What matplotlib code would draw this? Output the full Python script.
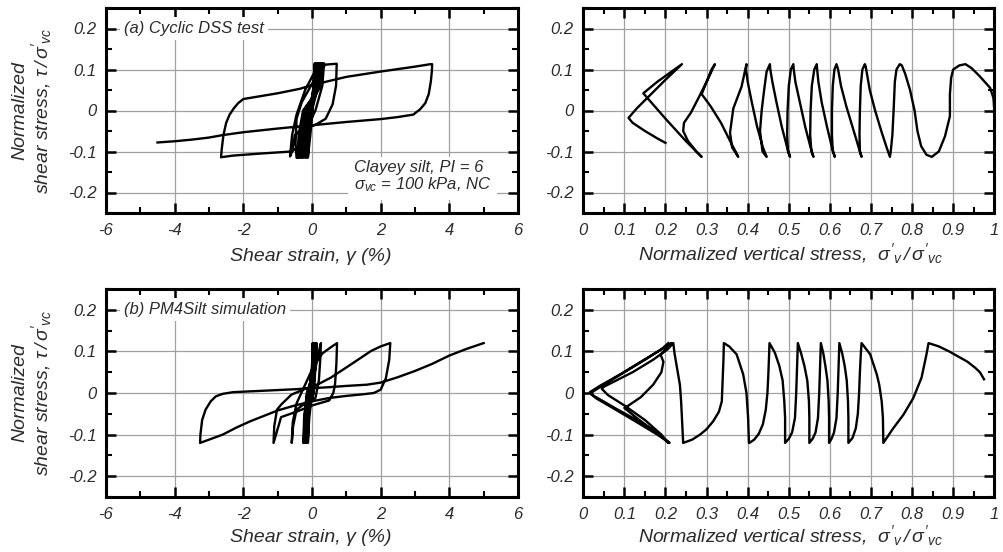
import matplotlib
matplotlib.use("Agg")
import matplotlib.pyplot as plt
from matplotlib.ticker import MultipleLocator, FuncFormatter

plt.rcParams["font.family"] = ["Liberation Sans", "DejaVu Sans"]
plt.rcParams["font.style"] = "italic"
plt.rcParams["axes.unicode_minus"] = False
plt.rcParams["mathtext.fontset"] = "custom"
plt.rcParams["mathtext.it"] = "Liberation Sans:italic"
plt.rcParams["mathtext.rm"] = "Liberation Sans:italic"
plt.rcParams["mathtext.sf"] = "Liberation Sans:italic"

TXT = "#2b2b2b"
GRID = "#a0a0a0"

# (a) cyclic DSS test: shear strain (%) vs tau/sigma'vc
dss_strain = [
    0.0, 0.08,
    0.05, -0.06, -0.09, -0.12,
    -0.05, 0.02, 0.04, 0.10,
    0.07, -0.08, -0.13, -0.16,
    -0.09, 0.01, 0.07, 0.13,
    0.10, -0.10, -0.17, -0.20,
    -0.13, 0.0, 0.09, 0.16,
    0.13, -0.12, -0.21, -0.25,
    -0.17, -0.01, 0.12, 0.19,
    0.16, -0.15, -0.25, -0.29,
    -0.21, -0.03, 0.15, 0.22,
    0.19, -0.18, -0.29, -0.33,
    -0.25, -0.05, 0.18, 0.25,
    0.21, -0.21, -0.33, -0.37,
    -0.29, -0.07, 0.20, 0.28,
    0.24, -0.24, -0.36, -0.40,
    -0.32, -0.09, 0.23, 0.31,
    0.27, -0.26, -0.39, -0.42,
    -0.32, -0.12, 0.18, 0.35,
    0.30, 0.10, -0.25, -0.45,
    -0.48, -0.45, -0.30, 0.0, 0.25, 0.40, 0.72,
    0.70, 0.60, 0.40, 0.10, -0.30, -0.50, -0.58, -0.64,
    -0.58, -0.45, -0.20, 0.05, 0.20,
    0.15, 0.0, -0.20, -0.40, -0.60, -1.5, -2.3, -2.65,
    -2.63, -2.58, -2.5, -2.4, -2.28, -2.15, -2.0, -1.0, -0.35, 0.0, 1.0, 2.0, 3.0, 3.45, 3.5,
    3.49, 3.46, 3.4, 3.3, 3.15, 2.95, 2.5, 2.0, 1.0, 0.0, -1.0, -2.0, -2.6, -3.0, -3.5, -4.0, -4.5,
]
dss_stress = [
    0.0, 0.115,
    0.06, 0.0, -0.06, -0.115,
    -0.06, 0.0, 0.06, 0.115,
    0.06, 0.0, -0.06, -0.115,
    -0.06, 0.0, 0.06, 0.115,
    0.06, 0.0, -0.06, -0.115,
    -0.06, 0.0, 0.06, 0.115,
    0.06, 0.0, -0.06, -0.115,
    -0.06, 0.0, 0.06, 0.115,
    0.06, 0.0, -0.06, -0.115,
    -0.06, 0.0, 0.06, 0.115,
    0.06, 0.0, -0.06, -0.115,
    -0.06, 0.0, 0.06, 0.115,
    0.06, 0.0, -0.06, -0.115,
    -0.06, 0.0, 0.06, 0.115,
    0.06, 0.0, -0.06, -0.115,
    -0.06, 0.0, 0.06, 0.115,
    0.06, 0.0, -0.06, -0.115,
    -0.06, 0.0, 0.07, 0.115,
    0.06, 0.0, -0.06, -0.115,
    -0.08, -0.02, 0.02, 0.065, 0.10, 0.112, 0.114,
    0.06, 0.015, -0.02, -0.035, -0.045, -0.06, -0.10, -0.112,
    -0.06, -0.01, 0.05, 0.09, 0.115,
    0.05, 0.0, -0.05, -0.09, -0.10, -0.105, -0.11, -0.114,
    -0.095, -0.06, -0.03, -0.01, 0.005, 0.018, 0.028, 0.042, 0.053, 0.062, 0.082, 0.095, 0.107, 0.113, 0.113,
    0.095, 0.07, 0.04, 0.018, 0.003, -0.01, -0.016, -0.021, -0.028, -0.036, -0.044, -0.053, -0.06, -0.066, -0.071, -0.075, -0.078,
]

# (a) cyclic DSS test: sigma'v/sigma'vc vs tau/sigma'vc
dss_vstress = [
    1.0, 0.998, 0.99, 0.965, 0.945, 0.93,
    0.915, 0.90, 0.895, 0.892, 0.892, 0.88, 0.865, 0.848,
    0.835, 0.822, 0.813, 0.806, 0.795, 0.783, 0.775, 0.77,
    0.762, 0.758, 0.755, 0.752, 0.748, 0.746,
    0.738, 0.725, 0.71, 0.697, 0.69, 0.687, 0.685,
    0.679, 0.675, 0.673, 0.672, 0.673, 0.677,
    0.67, 0.655, 0.64, 0.627, 0.62, 0.616,
    0.611, 0.607, 0.605, 0.605, 0.607, 0.612,
    0.605, 0.593, 0.58, 0.572, 0.569, 0.568,
    0.562, 0.556, 0.553, 0.552, 0.555, 0.56,
    0.553, 0.54, 0.527, 0.516, 0.512, 0.511,
    0.505, 0.50, 0.497, 0.496, 0.498, 0.503,
    0.496, 0.483, 0.47, 0.46, 0.455, 0.454,
    0.446, 0.44, 0.434, 0.43, 0.436, 0.446,
    0.437, 0.423, 0.41, 0.40, 0.396, 0.397,
    0.385, 0.365, 0.357, 0.362, 0.377,
    0.36, 0.335, 0.31, 0.288, 0.30, 0.312, 0.32,
    0.30, 0.28, 0.262, 0.245, 0.243, 0.255, 0.275, 0.288,
    0.25, 0.20, 0.165, 0.146, 0.18, 0.215, 0.24,
    0.20, 0.16, 0.13, 0.11, 0.12, 0.15, 0.18, 0.20,
]
dss_vtau = [
    0.0, 0.03, 0.055, 0.083, 0.103, 0.113,
    0.11, 0.10, 0.08, 0.04, -0.014, -0.063, -0.10, -0.113,
    -0.108, -0.087, -0.05, 0.0, 0.05, 0.09, 0.11, 0.113,
    0.10, 0.07, 0.0, -0.06, -0.10, -0.113,
    -0.09, -0.05, 0.0, 0.05, 0.09, 0.108, 0.113,
    0.10, 0.06, 0.0, -0.06, -0.10, -0.113,
    -0.09, -0.04, 0.01, 0.06, 0.10, 0.113,
    0.10, 0.06, 0.0, -0.06, -0.10, -0.113,
    -0.09, -0.04, 0.02, 0.07, 0.10, 0.113,
    0.10, 0.06, 0.0, -0.06, -0.10, -0.113,
    -0.09, -0.04, 0.02, 0.07, 0.10, 0.113,
    0.10, 0.06, 0.0, -0.06, -0.10, -0.113,
    -0.09, -0.04, 0.02, 0.07, 0.10, 0.113,
    0.095, 0.05, 0.0, -0.05, -0.10, -0.113,
    -0.09, -0.04, 0.02, 0.07, 0.10, 0.113,
    0.058, 0.005, -0.054, -0.09, -0.113,
    -0.08, -0.03, 0.01, 0.04, 0.07, 0.10, 0.113,
    0.07, 0.03, -0.005, -0.03, -0.05, -0.075, -0.10, -0.113,
    -0.075, -0.02, 0.02, 0.042, 0.07, 0.095, 0.113,
    0.075, 0.035, 0.005, -0.018, -0.03, -0.05, -0.068, -0.079,
]

# (b) PM4Silt simulation: shear strain (%) vs tau/sigma'vc
sim_strain = [
    0.0, 0.02,
    0.0, -0.08, -0.10, -0.12,
    -0.08, 0.0, 0.0, 0.03,
    0.01, -0.10, -0.13, -0.15,
    -0.11, 0.01, 0.02, 0.05,
    0.03, -0.11, -0.16, -0.18,
    -0.13, 0.02, 0.04, 0.07,
    0.05, -0.12, -0.18, -0.20,
    -0.15, 0.03, 0.06, 0.09,
    0.07, -0.13, -0.20, -0.22,
    -0.17, 0.04, 0.08, 0.11,
    0.09, -0.14, -0.22, -0.24,
    -0.19, 0.05, 0.10, 0.13,
    0.11, -0.15, -0.23, -0.25,
    -0.15, -0.05, 0.10, 0.20, 0.26,
    0.24, 0.20, 0.10, -0.20, -0.45, -0.55, -0.59,
    -0.56, -0.45, -0.20, 0.05, 0.30, 0.55, 0.73,
    0.71, 0.67, 0.62, 0.50, 0.0, -0.42, -0.90, -1.05, -1.12,
    -1.10, -1.02, -0.90, -0.60, -0.20, 0.20, 0.55, 1.14, 1.72, 2.0, 2.28,
    2.25, 2.15, 2.0, 1.8, 1.5, 1.0, 0.5, 0.0, -0.5, -1.0, -1.4, -1.8, -2.2, -2.6, -3.0, -3.26,
    -3.25, -3.2, -3.1, -2.95, -2.8, -2.6, -2.3, -1.5, -0.5, 0.5, 1.0, 1.6, 2.0, 2.5, 3.0, 3.5, 4.0, 4.5, 5.0,
]
sim_stress = [
    0.0, 0.12,
    0.06, 0.0, -0.06, -0.12,
    -0.06, 0.0, 0.06, 0.12,
    0.06, 0.0, -0.06, -0.12,
    -0.06, 0.0, 0.06, 0.12,
    0.06, 0.0, -0.06, -0.12,
    -0.06, 0.0, 0.06, 0.12,
    0.06, 0.0, -0.06, -0.12,
    -0.06, 0.0, 0.06, 0.12,
    0.06, 0.0, -0.06, -0.12,
    -0.06, 0.0, 0.06, 0.12,
    0.06, 0.0, -0.06, -0.12,
    -0.06, 0.0, 0.06, 0.12,
    0.06, 0.0, -0.06, -0.12,
    -0.06, 0.0, 0.06, 0.10, 0.12,
    0.08, 0.03, -0.012, -0.025, -0.04, -0.08, -0.12,
    -0.07, -0.025, 0.02, 0.065, 0.095, 0.11, 0.12,
    0.07, 0.02, 0.0, -0.018, -0.03, -0.044, -0.058, -0.10, -0.12,
    -0.08, -0.04, -0.028, -0.004, 0.01, 0.022, 0.037, 0.069, 0.101, 0.112, 0.12,
    0.08, 0.035, 0.008, 0.0, -0.003, -0.007, -0.012, -0.02, -0.03, -0.042, -0.055, -0.068, -0.083, -0.10, -0.112, -0.12,
    -0.10, -0.065, -0.04, -0.02, -0.008, -0.002, 0.002, 0.005, 0.009, 0.014, 0.017, 0.02, 0.025, 0.038, 0.053, 0.07, 0.09, 0.106, 0.12,
]

# (b) PM4Silt simulation: sigma'v/sigma'vc vs tau/sigma'vc
sim_vstress = [
    0.975, 0.965, 0.953, 0.935, 0.917, 0.89, 0.865, 0.84,
    0.835, 0.823, 0.803, 0.779, 0.754, 0.73,
    0.729, 0.726, 0.72, 0.714, 0.698, 0.677,
    0.675, 0.673, 0.671, 0.668, 0.663, 0.655, 0.645,
    0.645, 0.644, 0.641, 0.636, 0.63, 0.623,
    0.621, 0.619, 0.616, 0.61, 0.604, 0.598,
    0.598, 0.597, 0.594, 0.589, 0.584, 0.578,
    0.576, 0.574, 0.571, 0.565, 0.558, 0.55,
    0.55, 0.549, 0.545, 0.538, 0.53, 0.522,
    0.52, 0.518, 0.515, 0.508, 0.5, 0.491,
    0.491, 0.489, 0.485, 0.477, 0.466, 0.453,
    0.452, 0.45, 0.448, 0.444, 0.437, 0.427, 0.416, 0.404,
    0.403, 0.401, 0.397, 0.389, 0.373, 0.355, 0.342,
    0.341, 0.339, 0.337, 0.33, 0.316, 0.3, 0.284, 0.265, 0.243,
    0.242, 0.24, 0.238, 0.235, 0.228, 0.222, 0.219,
    0.205, 0.17, 0.12, 0.08, 0.05, 0.045,
    0.06, 0.10, 0.15, 0.19, 0.207,
    0.18, 0.13, 0.08, 0.04, 0.02, 0.016,
    0.04, 0.09, 0.14, 0.19, 0.215,
    0.20, 0.188, 0.195, 0.19, 0.17, 0.14, 0.11, 0.10,
    0.13, 0.17, 0.20, 0.21,
    0.18, 0.13, 0.07, 0.03, 0.018,
    0.05, 0.10, 0.15, 0.19, 0.207,
]
sim_vtau = [
    0.033, 0.05, 0.061, 0.075, 0.085, 0.10, 0.112, 0.12,
    0.093, 0.037, -0.012, -0.052, -0.085, -0.12,
    -0.06, -0.02, 0.02, 0.045, 0.093, 0.12,
    0.09, 0.05, 0.0, -0.05, -0.085, -0.108, -0.12,
    -0.06, -0.02, 0.03, 0.065, 0.095, 0.12,
    0.06, 0.0, -0.06, -0.095, -0.11, -0.12,
    -0.06, -0.02, 0.03, 0.065, 0.095, 0.12,
    0.06, 0.0, -0.06, -0.095, -0.11, -0.12,
    -0.06, -0.02, 0.03, 0.065, 0.095, 0.12,
    0.06, 0.0, -0.06, -0.095, -0.11, -0.12,
    -0.06, -0.02, 0.03, 0.065, 0.097, 0.12,
    0.09, 0.04, 0.0, -0.04, -0.075, -0.098, -0.112, -0.12,
    -0.12, -0.06, 0.0, 0.045, 0.093, 0.112, 0.12,
    0.08, 0.03, -0.02, -0.045, -0.068, -0.087, -0.10, -0.112, -0.12,
    -0.10, -0.06, -0.02, 0.02, 0.06, 0.095, 0.12,
    0.105, 0.08, 0.05, 0.03, 0.015, 0.01,
    -0.005, -0.03, -0.065, -0.10, -0.12,
    -0.095, -0.065, -0.038, -0.015, -0.004, 0.002,
    0.017, 0.045, 0.075, 0.105, 0.12,
    0.105, 0.092, 0.075, 0.05, 0.02, -0.01, -0.03, -0.036,
    -0.06, -0.09, -0.112, -0.12,
    -0.10, -0.07, -0.035, -0.012, 0.0,
    0.02, 0.05, 0.08, 0.105, 0.12,
]


def _yfmt(v, pos):
    return "0" if abs(v) < 1e-9 else f"{v:.1f}"


def _strain_fmt(v, pos):
    return f"{v:.0f}" if abs(v) > 1e-9 else "0"


def _ratio_fmt(v, pos):
    if abs(v) < 1e-9:
        return "0"
    if abs(v - 1) < 1e-9:
        return "1"
    return f"{v:.1f}"


def _style(ax, xlim, xmaj, xmin, xfmt):
    ax.set_xlim(*xlim)
    ax.set_ylim(-0.25, 0.25)
    ax.xaxis.set_major_locator(MultipleLocator(xmaj))
    ax.xaxis.set_minor_locator(MultipleLocator(xmin))
    ax.yaxis.set_major_locator(MultipleLocator(0.1))
    ax.yaxis.set_minor_locator(MultipleLocator(0.05))
    ax.xaxis.set_major_formatter(FuncFormatter(xfmt))
    ax.yaxis.set_major_formatter(FuncFormatter(_yfmt))
    ax.tick_params(which="both", direction="in", top=True, right=True,
                   labelsize=12, labelcolor=TXT, pad=7)
    ax.tick_params(which="major", length=7, width=1.8)
    ax.tick_params(which="minor", length=4.5, width=1.5)
    ax.grid(True, which="major", color=GRID, lw=0.9)
    ax.set_axisbelow(True)
    for s in ax.spines.values():
        s.set_linewidth(2.2)


fig = plt.figure(figsize=(10.04, 5.52), dpi=100)
W, H = 1004.0, 552.0

ax_a = fig.add_axes([106 / W, 1 - 213 / H, 412 / W, 205 / H])
ax_av = fig.add_axes([583.3 / W, 1 - 213 / H, 411 / W, 205 / H])
ax_b = fig.add_axes([106 / W, 1 - 497 / H, 412 / W, 208 / H])
ax_bv = fig.add_axes([583.3 / W, 1 - 497 / H, 411 / W, 208 / H])

for ax in (ax_a, ax_b):
    _style(ax, (-6, 6), 2, 1, _strain_fmt)
for ax in (ax_av, ax_bv):
    _style(ax, (0, 1), 0.1, 0.05, _ratio_fmt)

lw = 1.7
ax_a.plot(dss_strain, dss_stress, color="black", lw=lw, solid_joinstyle="round", zorder=2)
ax_av.plot(dss_vstress, dss_vtau, color="black", lw=lw, solid_joinstyle="round", zorder=2)
ax_b.plot(sim_strain, sim_stress, color="black", lw=lw, solid_joinstyle="round", zorder=2)
ax_bv.plot(sim_vstress, sim_vtau, color="black", lw=lw, solid_joinstyle="round", zorder=2)

box = dict(fc="white", ec="none", pad=3)
ax_a.text(-5.48, 0.2, "(a) Cyclic DSS test", ha="left", va="center",
          fontsize=12, color=TXT, bbox=box, zorder=3)
ax_b.text(-5.48, 0.2, "(b) PM4Silt simulation", ha="left", va="center",
          fontsize=12, color=TXT, bbox=box, zorder=3)
ax_a.text(1.22, -0.163, "Clayey silt, PI = 6\n$\\sigma_{vc}$ = 100 kPa, NC",
          ha="left", va="center", fontsize=12, color=TXT, linespacing=1.0,
          bbox=dict(fc="white", ec="none", pad=4), zorder=3)

ylab = "Normalized\nshear stress, $\\tau\\,/\\,\\sigma'_{vc}$"
fig.text(33 / W, 1 - 110.6 / H, ylab, rotation=90, ha="center", va="center",
         multialignment="center", fontsize=14, color=TXT, linespacing=1.05)
fig.text(33 / W, 1 - 393 / H, ylab, rotation=90, ha="center", va="center",
         multialignment="center", fontsize=14, color=TXT, linespacing=1.05)

xlab_l = "Shear strain, \u03b3 (%)"
xlab_r = "Normalized vertical stress,  $\\sigma'_{v}\\,/\\,\\sigma'_{vc}$"
fig.text(311 / W, 1 - 261 / H, xlab_l, ha="center", va="baseline", fontsize=14, color=TXT)
fig.text(311 / W, 1 - 542 / H, xlab_l, ha="center", va="baseline", fontsize=14, color=TXT)
fig.text(790 / W, 1 - 260 / H, xlab_r, ha="center", va="baseline", fontsize=14, color=TXT)
fig.text(790 / W, 1 - 542 / H, xlab_r, ha="center", va="baseline", fontsize=14, color=TXT)

fig.savefig("out.png", dpi=100)
